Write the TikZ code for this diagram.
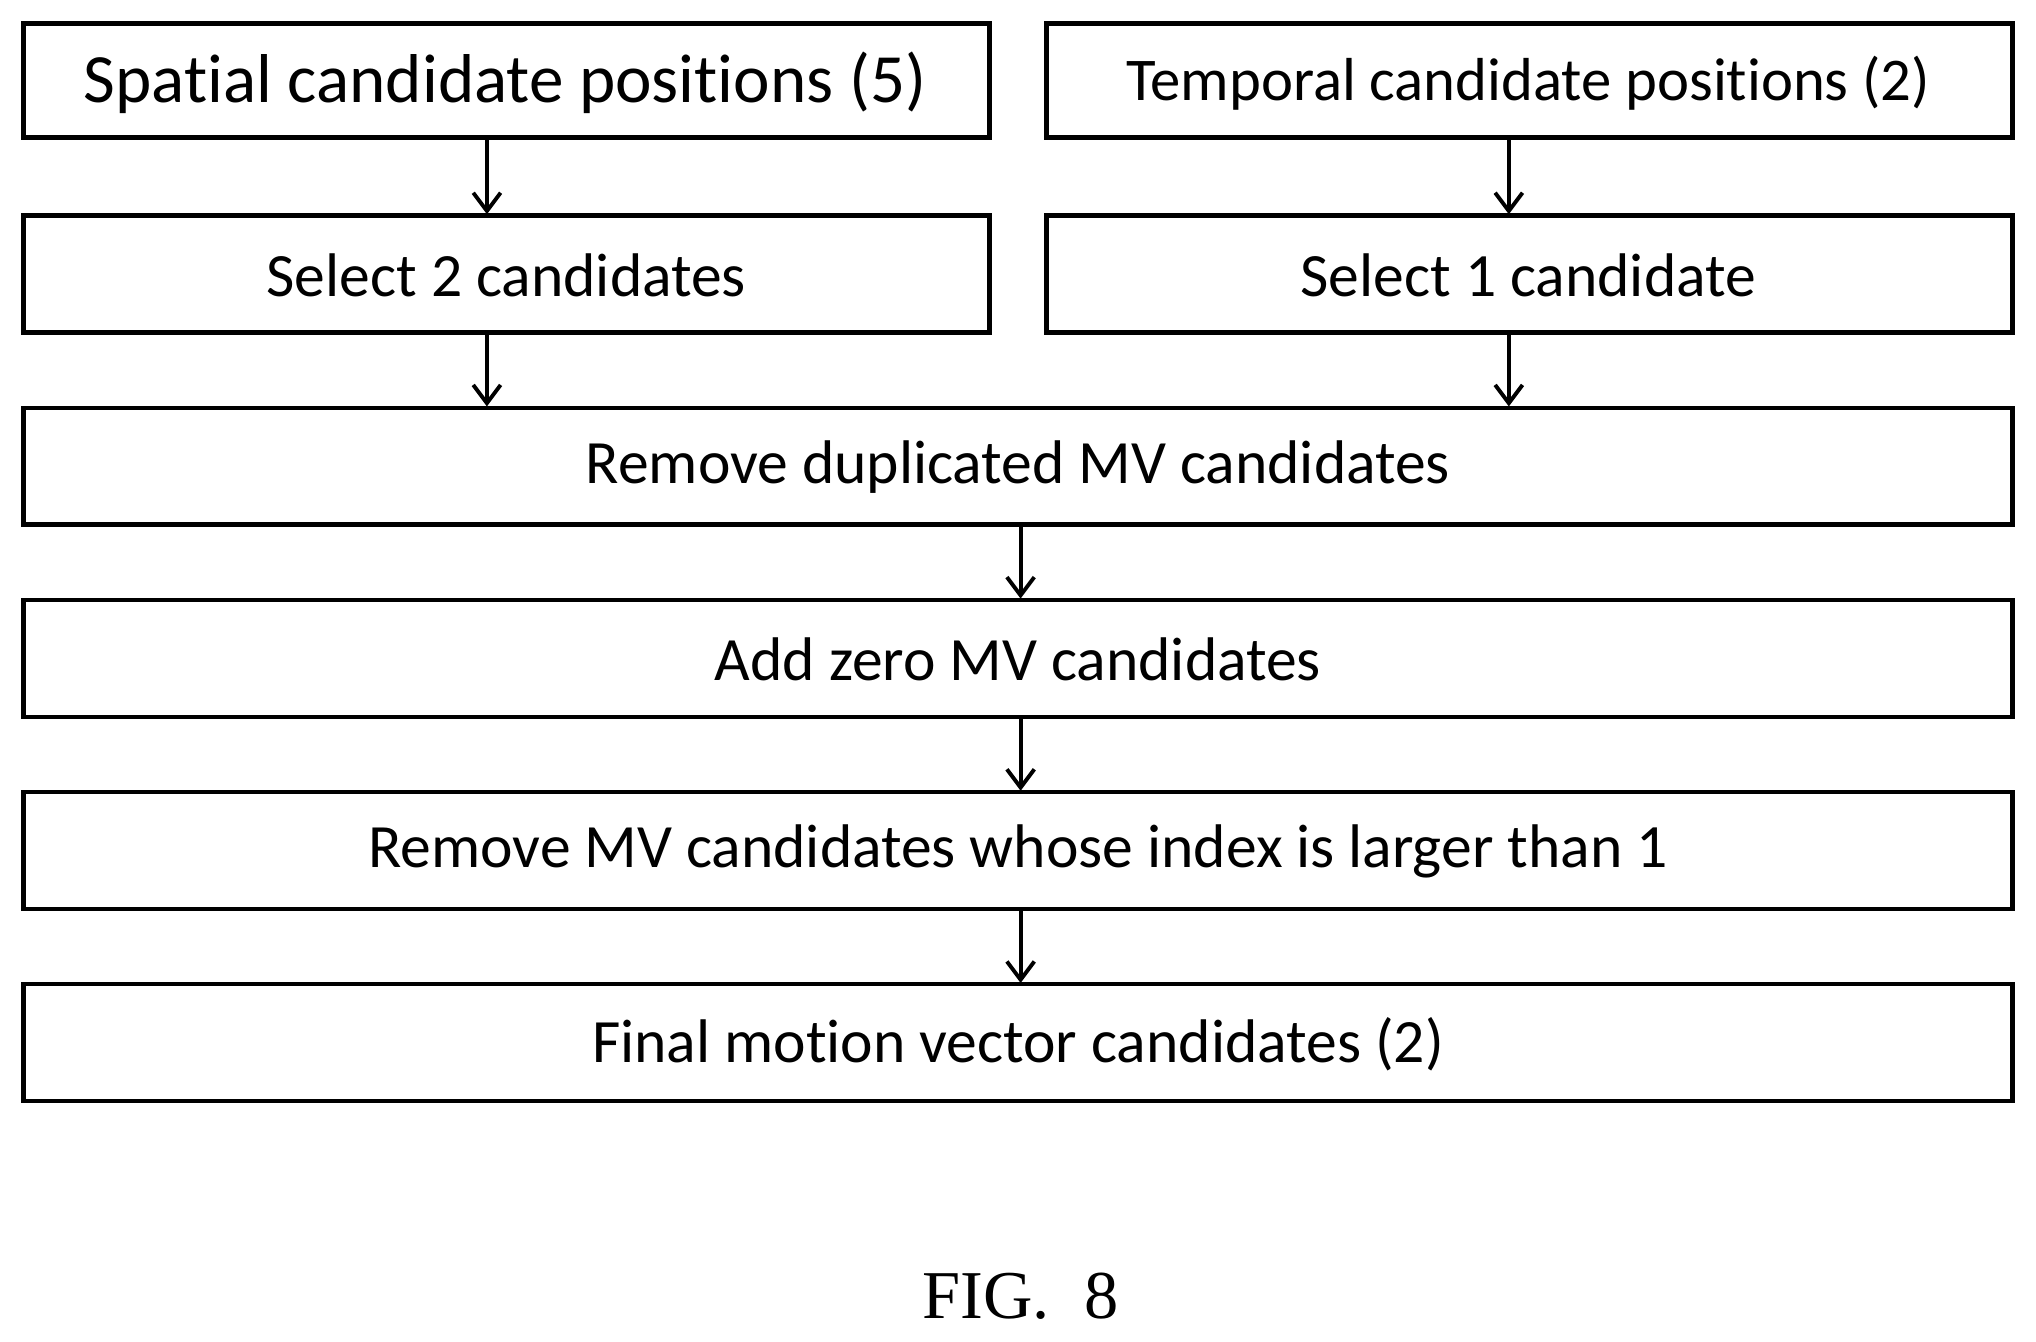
\documentclass[tikz,border=0pt]{standalone}
\usepackage{fontspec}
\setmainfont[Ligatures=NoCommon]{Carlito}
\newfontfamily\figfont{Liberation Serif}
\usetikzlibrary{arrows.meta}
\begin{document}
\begin{tikzpicture}[x=0.02cm,y=-0.02cm,
  box/.style={draw,line width=1.9pt,inner sep=0},
  txt/.style={font=\fontsize{27}{30}\selectfont},
  arr/.style={line width=1.7pt,-{Straight Barb[length=8pt,width=12pt,line width=1.7pt]}}]
\useasboundingbox (0,0) rectangle (1568,1033);
\draw[box] (18,18) rectangle (762,106);
\node[txt,font=\fontsize{30.3}{33}\selectfont] (sp) at (389,64) {Spatial candidate positions (5)};
\draw[box] (806,18) rectangle (1550,106);
\node[txt,font=\fontsize{26.6}{30}\selectfont] (tp) at (1177,64) {Temporal candidate positions (2)};
\draw[box] (18,166) rectangle (762,256);
\node[txt] (s2) at (390,212) {Select 2 candidates};
\draw[box] (806,166) rectangle (1550,256);
\node[txt] (s1) at (1177,212) {Select 1 candidate};
\draw[box] (18,314) rectangle (1550,404);
\node[txt] (rd) at (784,360) {Remove duplicated MV candidates};
\draw[box] (18,462) rectangle (1550,552);
\node[txt] (az) at (784,508) {Add zero MV candidates};
\draw[box] (18,610) rectangle (1550,700);
\node[txt] (rm) at (784,656) {Remove MV candidates whose index is larger than 1};
\draw[box] (18,758) rectangle (1550,848);
\node[txt] (fm) at (784,804) {Final motion vector candidates (2)};
\coordinate (a1) at (375,107); \coordinate (a2) at (375,165);
\coordinate (b1) at (1162,107); \coordinate (b2) at (1162,165);
\coordinate (c1) at (375,257); \coordinate (c2) at (375,313);
\coordinate (d1) at (1162,257); \coordinate (d2) at (1162,313);
\coordinate (e1) at (786,405); \coordinate (e2) at (786,461);
\coordinate (f1) at (786,553); \coordinate (f2) at (786,609);
\coordinate (g1) at (786,701); \coordinate (g2) at (786,757);
\foreach \p/\q in {a1/a2,b1/b2,c1/c2,d1/d2,e1/e2,f1/f2,g1/g2} \draw[arr] (\p) -- (\q);
\node[font=\figfont\fontsize{30}{34}\selectfont] (fig) at (786,998) {FIG.~~8};
\end{tikzpicture}
\end{document}
